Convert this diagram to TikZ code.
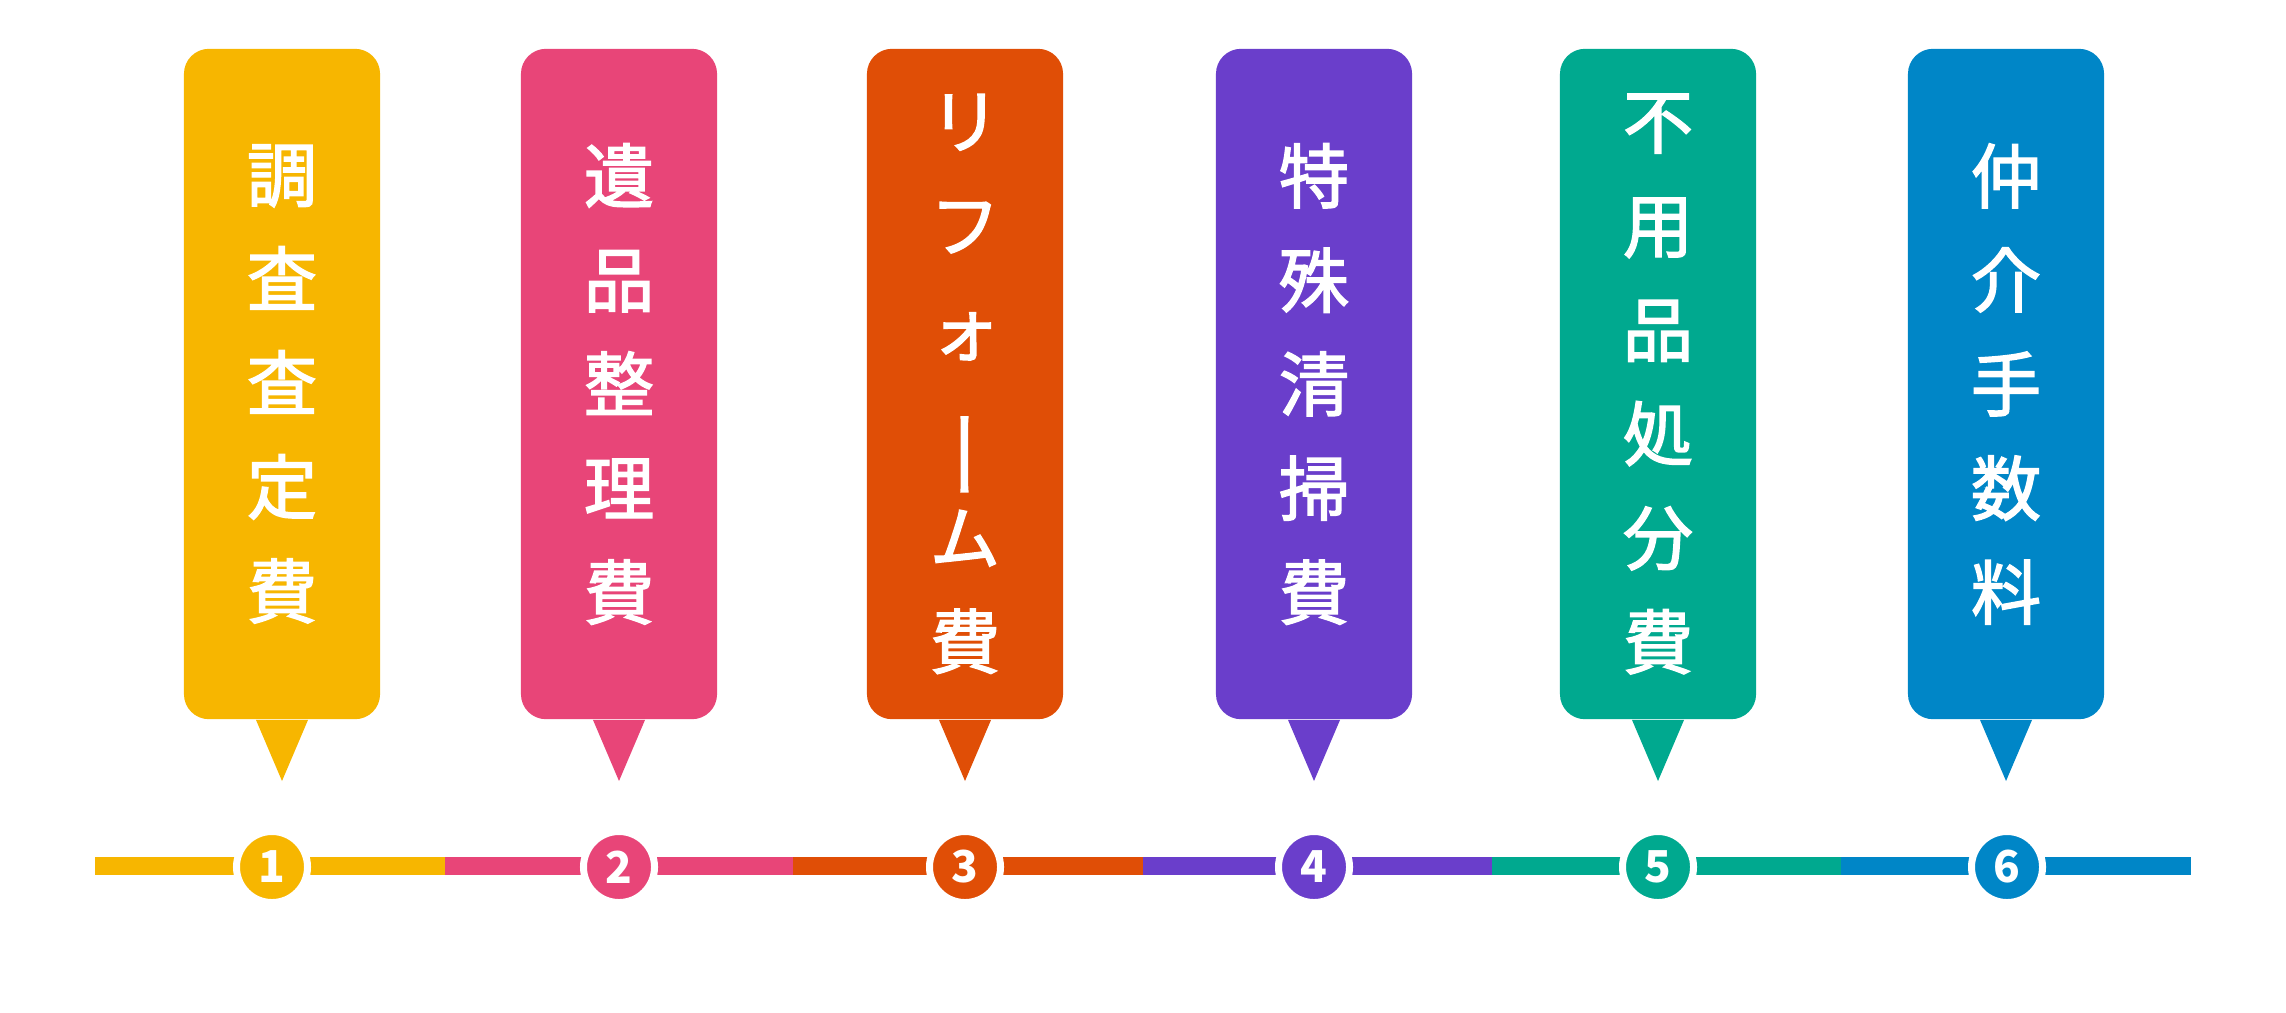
\documentclass[tikz,border=0pt]{standalone}
\usepackage{fontspec}
\usepackage{graphicx}
\newfontfamily\jpfont{Noto Sans CJK JP}
\newfontfamily\jptext[FakeBold=2]{Noto Sans CJK JP}
\definecolor{cA}{RGB}{247,182,0}
\definecolor{cB}{RGB}{232,69,120}
\definecolor{cC}{RGB}{224,78,6}
\definecolor{cD}{RGB}{106,62,203}
\definecolor{cE}{RGB}{0,169,143}
\definecolor{cF}{RGB}{0,134,199}
\newcommand{\vbar}{\raisebox{-9pt}{\scalebox{1}[1.35]{\addfontfeature{RawFeature=+vert}ー}}}
\tikzset{
 box/.style={rectangle,rounded corners=0.25cm,minimum width=1.96cm,minimum height=6.7cm,inner sep=0pt,text=white,align=center,font=\jptext\fontsize{20}{29.6}\selectfont},
 seg/.style={line width=0.18cm},
 num/.style={circle,draw=white,line width=0.07cm,minimum size=0.71cm,inner sep=0pt,text=white,font=\jpfont\bfseries\fontsize{12.5}{15}\selectfont},
}
\begin{document}
\begin{tikzpicture}[x=0.01cm,y=-0.01cm]
 \useasboundingbox (0,0) rectangle (2286,1012);
 % callouts
 \node[box,fill=cA] (b1) at (282,384) {調\\査\\査\\定\\費};
 \node[box,fill=cB] (b2) at (619,384) {遺\\品\\整\\理\\費};
 \node[box,fill=cC] (b3) at (965,384) {リ\\フ\\ォ\\\vbar\\ム\\費};
 \node[box,fill=cD] (b4) at (1314,384) {特\\殊\\清\\掃\\費};
 \node[box,fill=cE] (b5) at (1658,384) {不\\用\\品\\処\\分\\費};
 \node[box,fill=cF] (b6) at (2006,384) {仲\\介\\手\\数\\料};
 \coordinate (p1) at (282,781);
 \coordinate (p2) at (619,781);
 \coordinate (p3) at (965,781);
 \coordinate (p4) at (1314,781);
 \coordinate (p5) at (1658,781);
 \coordinate (p6) at (2006,781);
 \fill[cA] ([xshift=-0.26cm]b1.south) -- ([xshift=0.26cm]b1.south) -- (p1) -- cycle;
 \fill[cB] ([xshift=-0.26cm]b2.south) -- ([xshift=0.26cm]b2.south) -- (p2) -- cycle;
 \fill[cC] ([xshift=-0.26cm]b3.south) -- ([xshift=0.26cm]b3.south) -- (p3) -- cycle;
 \fill[cD] ([xshift=-0.26cm]b4.south) -- ([xshift=0.26cm]b4.south) -- (p4) -- cycle;
 \fill[cE] ([xshift=-0.26cm]b5.south) -- ([xshift=0.26cm]b5.south) -- (p5) -- cycle;
 \fill[cF] ([xshift=-0.26cm]b6.south) -- ([xshift=0.26cm]b6.south) -- (p6) -- cycle;
 % timeline
 \coordinate (t0) at (95,866);
 \coordinate (t1) at (445,866);
 \coordinate (t2) at (793,866);
 \coordinate (t3) at (1143,866);
 \coordinate (t4) at (1492,866);
 \coordinate (t5) at (1841,866);
 \coordinate (t6) at (2191,866);
 \draw[seg,cA] (t0) -- (t1);
 \draw[seg,cB] (t1) -- (t2);
 \draw[seg,cC] (t2) -- (t3);
 \draw[seg,cD] (t3) -- (t4);
 \draw[seg,cE] (t4) -- (t5);
 \draw[seg,cF] (t5) -- (t6);
 \node[num,fill=cA] (c1) at (272,867) {1};
 \node[num,fill=cB] (c2) at (619,867) {2};
 \node[num,fill=cC] (c3) at (965,867) {3};
 \node[num,fill=cD] (c4) at (1314,867) {4};
 \node[num,fill=cE] (c5) at (1658,867) {5};
 \node[num,fill=cF] (c6) at (2007,867) {6};
\end{tikzpicture}
\end{document}
